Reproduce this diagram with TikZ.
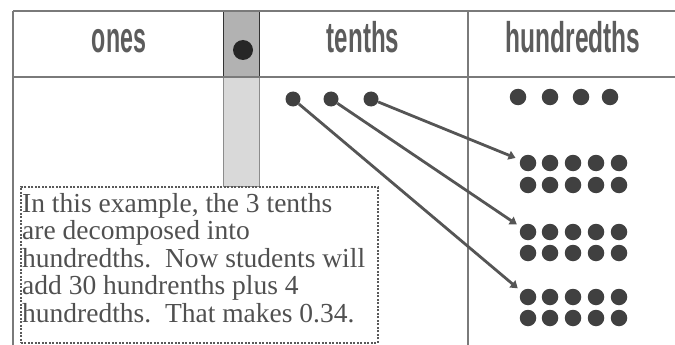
\documentclass[tikz,border=0pt]{standalone}
\usepackage{fontspec}
\setmainfont{Liberation Serif}
\newfontfamily\headfont{Liberation Sans}
\usetikzlibrary{arrows.meta}
\definecolor{gridc}{HTML}{7A7A7A}
\definecolor{dotc}{HTML}{404040}
\definecolor{txtc}{HTML}{505050}
\definecolor{headc}{HTML}{5C5C5C}
\definecolor{arrc}{HTML}{555555}
\tikzset{
  gridline/.style={draw=gridc, line width=1.3pt},
  dotnode/.style={circle, fill=dotc, draw=none, inner sep=0pt, minimum size=16.5pt},
  tdot/.style={circle, fill=dotc, draw=none, inner sep=0pt, minimum size=15pt},
  header/.style={anchor=base, text=headc, inner sep=0pt, font=\headfont\bfseries\fontsize{43}{43}\selectfont},
  boxline/.style={anchor=base west, text=txtc, inner sep=0pt, font=\fontsize{27.5}{27.5}\selectfont},
  movearrow/.style={draw=arrc, line width=2.8pt, -{Triangle[length=7pt,width=9pt]}, shorten >=5pt}
}
\begin{document}
\begin{tikzpicture}[x=1pt, y=-1pt]
\useasboundingbox (0,0) rectangle (675,345);
% gray column
\node[draw=black!80, fill=black!30, line width=1.3pt, minimum width=36pt, minimum height=66pt, inner sep=0pt, anchor=north west] (gcolh) at (223,11) {};
\node[draw=black!45, fill=black!15, line width=1pt, minimum width=36pt, minimum height=109pt, inner sep=0pt, anchor=north west] (gcoll) at (223,77) {};
\node[circle, fill=black!85, inner sep=0pt, minimum size=20pt] (onedot) at (243,50) {};
% grid
\coordinate (tl) at (13,11);
\coordinate (tr) at (675,11);
\coordinate (ml) at (13,77);
\coordinate (mr) at (675,77);
\coordinate (bl) at (13,345);
\coordinate (dt) at (468,11);
\coordinate (db) at (468,345);
\draw[gridline] (tl) -- (tr);
\draw[gridline] (ml) -- (mr);
\draw[gridline] (tl) -- (bl);
\draw[gridline] (dt) -- (db);
% headers
\node[header] (hones) at (119,53) {\scalebox{0.54}[1]{ones}};
\node[header] (htenths) at (363,53) {\scalebox{0.56}[1]{tenths}};
\node[header] (hhund) at (573,53) {\scalebox{0.57}[1]{hundredths}};
% tenths dots
\node[tdot] (t1) at (293,99) {};
\node[tdot] (t2) at (331,99) {};
\node[tdot] (t3) at (371,99) {};
% hundredths: top row of 4
\node[dotnode] (h1) at (518,97) {};
\node[dotnode] (h2) at (550,97) {};
\node[dotnode] (h3) at (581,97) {};
\node[dotnode] (h4) at (610,97) {};
% groups of ten
\foreach \g/\ya/\yb in {a/163/185, b/232/253, c/297/318} {
  \foreach \i/\x in {1/528, 2/550, 3/573, 4/596, 5/619} {
    \node[dotnode] (\g r1\i) at (\x,\ya) {};
    \node[dotnode] (\g r2\i) at (\x,\yb) {};
  }
}
% arrows
\draw[movearrow] (t3) -- (ar11);
\draw[movearrow] (t2) -- (br11);
\draw[movearrow] (t1) -- (cr11);
% text box
\node[draw=black!65, dash pattern=on 2pt off 1.5pt, line width=1.5pt, minimum width=357pt, minimum height=156pt, inner sep=0pt, anchor=north west] (tbox) at (20,186) {};
\node[boxline] (l1) at (22,212) {In this example, the 3 tenths};
\node[boxline] (l2) at (22,239.5) {are decomposed into};
\node[boxline] (l3) at (22,267) {hundredths.\ \ Now students will};
\node[boxline] (l4) at (22,294.5) {add 30 hundrenths plus 4};
\node[boxline] (l5) at (22,322) {hundredths.\ \ That makes 0.34.};
\end{tikzpicture}
\end{document}
